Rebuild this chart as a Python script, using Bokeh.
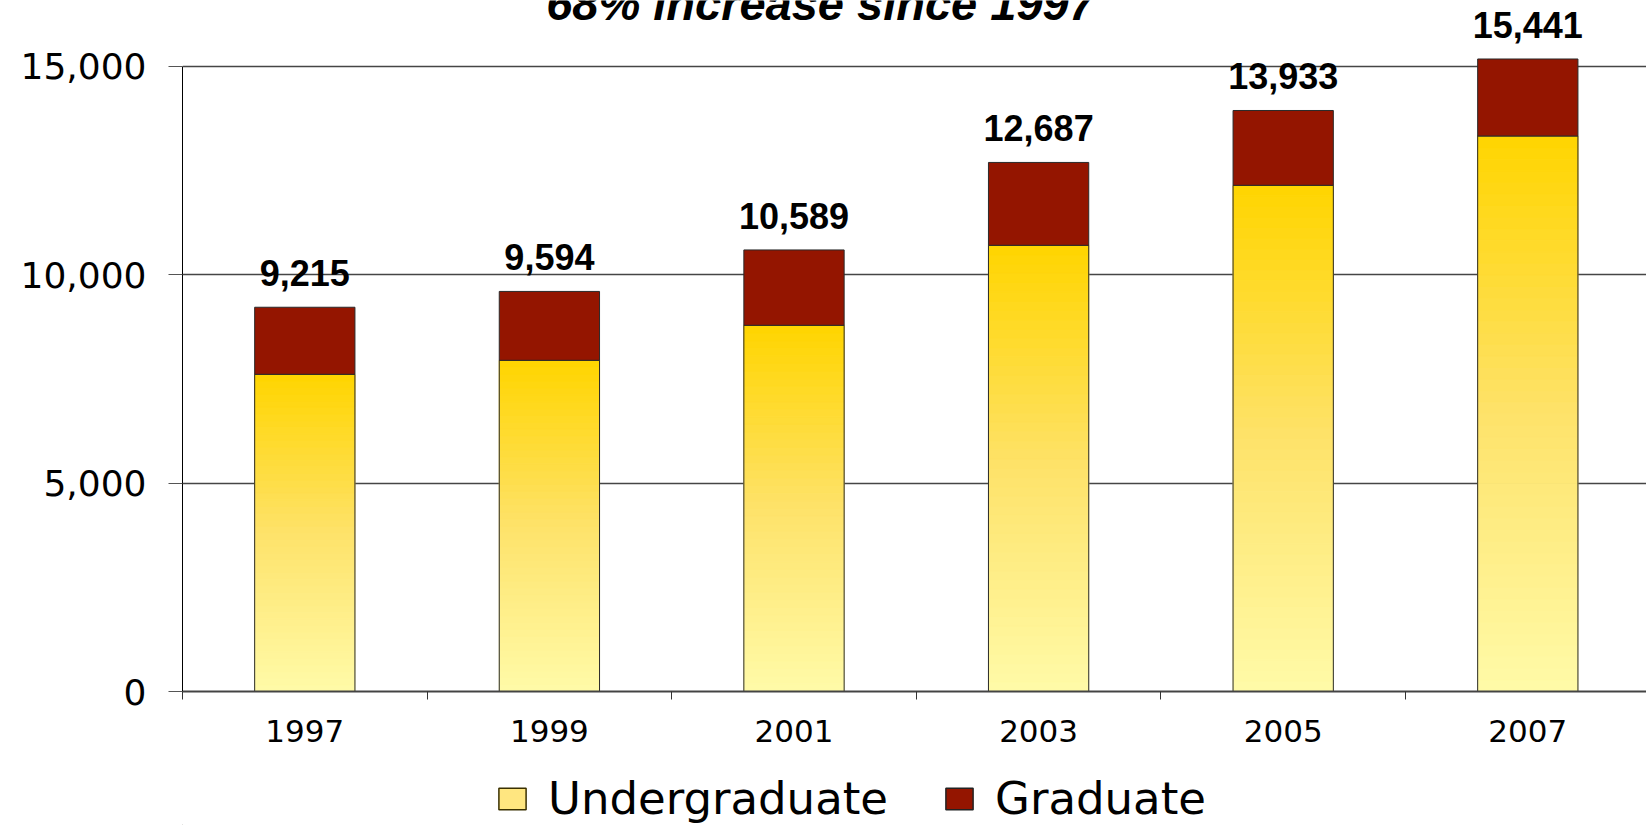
from bokeh.plotting import figure
from bokeh.layouts import column
from bokeh.models import (ColumnDataSource, Range1d, FixedTicker, NumeralTickFormatter,
                          Legend, LegendItem, Label)
from bokeh.core.properties import value
from bokeh.embed import file_html
from bokeh.resources import INLINE

# ---------------- data ----------------
years = ["1997", "1999", "2001", "2003", "2005", "2007"]
undergraduate = [7607, 7942, 8782, 10700, 12139, 13321]
graduate = [1608, 1652, 1807, 1987, 1794, 1847]
total_labels = ["9,215", "9,594", "10,589", "12,687", "13,933", "15,441"]
series_names = ["Undergraduate", "Graduate"]
title_text = "68% increase since 1997"
y_ticks = [0, 5000, 10000, 15000]

# ---------------- layout ----------------
W = 1646
H_MAIN, H_LEG = 771, 54
BORDER_L, BORDER_B = 182, 80
PX_PER_UNIT = 208.5 / 5000.0
CAT_PX = 244.6
frame_w = W - BORDER_L
frame_h = H_MAIN - BORDER_B
BAR_W = 0.41
UG_COLOR_LEGEND = "#FFE680"
GRAD_COLOR = "#941500"
EDGE = "#2a2a2a"

centers = [i + 0.5 for i in range(len(years))]
bounds = list(range(len(years) + 1))
tops = [u + g for u, g in zip(undergraduate, graduate)]

p = figure(width=W, height=H_MAIN, output_backend="svg", toolbar_location=None,
           x_range=Range1d(0, frame_w / CAT_PX),
           y_range=Range1d(0, frame_h / PX_PER_UNIT),
           min_border_left=BORDER_L, min_border_right=0,
           min_border_top=0, min_border_bottom=BORDER_B)
p.outline_line_color = None
p.background_fill_color = "white"
p.border_fill_color = "white"

# grid
p.xgrid.visible = False
p.ygrid.ticker = FixedTicker(ticks=y_ticks)
p.ygrid.grid_line_color = "#454545"
p.ygrid.grid_line_width = 1.5

# y axis
ya = p.yaxis[0]
ya.ticker = FixedTicker(ticks=y_ticks)
ya.formatter = NumeralTickFormatter(format="0,0")
ya.bounds = (y_ticks[0], y_ticks[-1])
ya.axis_line_color = "black"
ya.axis_line_width = 1
ya.major_tick_out = 14
ya.major_tick_in = 0
ya.major_tick_line_color = "#555555"
ya.minor_tick_line_color = None
ya.major_label_standoff = 22
ya.major_label_text_font = "DejaVu Sans"
ya.major_label_text_font_size = "36px"
ya.major_label_text_color = "black"

# x axis: labels at centres, tick marks at category boundaries
xa = p.xaxis[0]
xa.ticker = FixedTicker(ticks=centers, minor_ticks=bounds)
xa.major_label_overrides = {c: y for c, y in zip(centers, years)}
xa.major_tick_out = 0
xa.major_tick_in = 0
xa.major_tick_line_color = None
xa.minor_tick_out = 8
xa.minor_tick_in = 0
xa.minor_tick_line_color = "#333333"
xa.axis_line_color = "#444444"
xa.axis_line_width = 2
xa.major_label_standoff = 20
xa.major_label_text_font = "DejaVu Sans"
xa.major_label_text_font_size = "31px"
xa.major_label_text_color = "black"

# ---------------- gradient for undergraduate bars ----------------
N = 48
stops = [(0.0, (255, 251, 168)), (0.5, (254, 226, 106)), (1.0, (255, 213, 0))]


def grad_color(f):
    for (f0, c0), (f1, c1) in zip(stops[:-1], stops[1:]):
        if f0 <= f <= f1:
            t = (f - f0) / (f1 - f0)
            r, g, b = (int(round(a + (bb - a) * t)) for a, bb in zip(c0, c1))
            return "#%02x%02x%02x" % (r, g, b)
    return "#%02x%02x%02x" % stops[-1][1]


gx, gb, gt, gc = [], [], [], []
for c, u in zip(centers, undergraduate):
    for k in range(N):
        gx.append(c)
        gb.append(u * k / N)
        gt.append(u * (k + 1) / N)
        gc.append(grad_color((k + 0.5) / N))

band_src = ColumnDataSource(dict(x=gx, bottom=gb, top=gt, color=gc))
p.vbar(x="x", bottom="bottom", top="top", width=BAR_W, source=band_src,
       fill_color="color", line_color="color", line_width=1)

src = ColumnDataSource(dict(x=centers, ug=undergraduate, top=tops, label=total_labels))

# outlines / graduate segment
p.vbar(x="x", bottom=0, top="ug", width=BAR_W, source=src,
       fill_color=None, line_color=EDGE, line_width=1)
p.vbar(x="x", bottom="ug", top="top", width=BAR_W, source=src,
       fill_color=GRAD_COLOR, line_color=EDGE, line_width=1)

# total labels
p.text(x="x", y="top", text="label", source=src, y_offset=-34,
       text_font=value("Liberation Sans"), text_font_style="bold",
       text_font_size="36px", text_align="center", text_baseline="alphabetic",
       text_color="black")

# title (partly cut off at the top, as in the reference)
p.add_layout(Label(x=(820 - BORDER_L) / CAT_PX, y=(frame_h - 3) / PX_PER_UNIT,
                   text=title_text, text_font="Liberation Sans",
                   text_font_style="bold italic", text_font_size="47px",
                   text_align="center", text_baseline="alphabetic",
                   text_color="black"))

# ---------------- legend strip ----------------
# (frames of the column's plots are aligned, so this frame also starts at BORDER_L)
lg = figure(width=W, height=H_LEG, output_backend="svg", toolbar_location=None,
            x_range=Range1d(0, 1), y_range=Range1d(0, 1), min_border=0,
            x_axis_location=None, y_axis_location=None)
lg.outline_line_color = None
lg.grid.visible = False
proxy = ColumnDataSource(dict(x=[-5.0], top=[0.0]))
r_ug = lg.vbar(x="x", top="top", width=0.1, source=proxy,
               fill_color=UG_COLOR_LEGEND, line_color="#3a3000", line_width=1.5)
r_gr = lg.vbar(x="x", top="top", width=0.1, source=proxy,
               fill_color=GRAD_COLOR, line_color="#222222", line_width=1.5)
legend = Legend(items=[LegendItem(label=series_names[0], renderers=[r_ug]),
                       LegendItem(label=series_names[1], renderers=[r_gr])],
                orientation="horizontal", location=(495 - BORDER_L, 0),
                glyph_width=34, glyph_height=27, label_standoff=19, spacing=54,
                padding=0, margin=0, border_line_color=None,
                background_fill_alpha=0,
                label_text_font="DejaVu Sans", label_text_font_size="45px",
                label_text_color="black")
lg.add_layout(legend, "center")

open("out.html", "w").write(file_html(column(p, lg, spacing=0), INLINE))
